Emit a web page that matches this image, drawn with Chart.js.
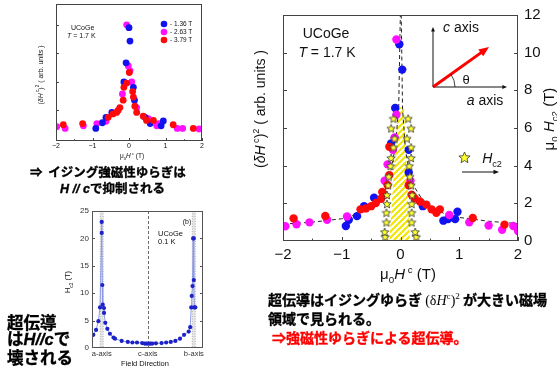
<!DOCTYPE html>
<html>
<head>
<meta charset="utf-8">
<script src="https://cdn.jsdelivr.net/npm/chart.js@4.4.1/dist/chart.umd.min.js"></script>
<style>
body{margin:0;width:557px;height:371px;background:#fff;position:relative;overflow:hidden;font-family:"Liberation Sans",Arial,sans-serif;}
canvas{position:absolute;}
.t{position:absolute;white-space:nowrap;color:#111;line-height:1;}
.c{transform:translate(-50%,-50%);}
.l{transform:translate(0,-50%);}
.rot{transform:translate(-50%,-50%) rotate(-90deg);}
.jp{font-family:"Noto Sans CJK JP",sans-serif;font-weight:700;-webkit-text-stroke:0.35px #000;color:#000;}
.red{color:#ff0000;-webkit-text-stroke:0.35px #ff0000;}
.lat{font-family:"Liberation Sans",Arial,sans-serif;font-style:italic;}
.ser{font-family:"Liberation Serif","Times New Roman",serif;font-weight:400;-webkit-text-stroke:0;}
sub,sup{font-size:65%;line-height:0;}
</style>
</head>
<body>
<canvas id="small" width="215" height="160" style="left:0;top:0"></canvas>
<canvas id="hc2" width="175" height="171" style="left:40px;top:200px"></canvas>
<canvas id="big" width="307" height="290" style="left:250px;top:0"></canvas>

<!-- top-left chart texts -->
<div class="t l" style="left:71px;top:27px;font-size:7px">UCoGe</div>
<div class="t l" style="left:67px;top:35px;font-size:7px"><i>T</i> = 1.7 K</div>
<div class="t l" style="left:170px;top:24px;font-size:6.5px">- 1.36 T</div>
<div class="t l" style="left:170px;top:32px;font-size:6.5px">- 2.63 T</div>
<div class="t l" style="left:170px;top:40px;font-size:6.5px">- 3.79 T</div>
<div class="t c" style="left:132px;top:156px;font-size:6.5px">μ<sub>0</sub><i>H</i><sup> c</sup> (T)</div>
<div class="t rot" style="left:40px;top:75px;font-size:7px">(<i>δH</i><sup> c</sup>)<sup>2</sup> ( arb. units )</div>

<!-- bottom-left chart texts -->
<div class="t c" style="left:187px;top:221px;font-size:7px">(b)</div>
<div class="t l" style="left:158px;top:234px;font-size:7.5px">UCoGe</div>
<div class="t l" style="left:158px;top:242px;font-size:7.5px">0.1 K</div>
<div class="t c" style="left:145px;top:364px;font-size:7.5px">Field Direction</div>
<div class="t rot" style="left:68px;top:282px;font-size:7.5px">H<sub>c2</sub> (T)</div>

<!-- big chart texts -->
<div class="t c" style="left:326px;top:33px;font-size:14px">UCoGe</div>
<div class="t c" style="left:327px;top:52px;font-size:14px"><i>T</i> = 1.7 K</div>
<div class="t c" style="left:461px;top:27px;font-size:14px"><i>c</i> axis</div>
<div class="t c" style="left:485px;top:100px;font-size:14px"><i>a</i> axis</div>
<div class="t c" style="left:466px;top:79px;font-size:13px">θ</div>
<div class="t c" style="left:492px;top:158px;font-size:14px"><i>H</i><sub>c2</sub></div>
<div class="t c" style="left:408px;top:273px;font-size:15px">μ<sub>0</sub><i>H</i><sup> c</sup> (T)</div>
<div class="t rot" style="left:260px;top:109px;font-size:14px">(<i>δH</i><sup> c</sup>)<sup>2</sup> ( arb. units )</div>
<div class="t rot" style="left:548px;top:119px;font-size:15px">μ<sub>0</sub> <i>H</i><sub>c2</sub> (T)</div>

<!-- Japanese annotations -->
<div class="t l jp" style="left:30px;top:172px;font-size:12.5px">⇒&nbsp;&nbsp;イジング強磁性ゆらぎは</div>
<div class="t l jp" style="left:60px;top:189px;font-size:12.5px"><span class="lat">H // c</span>で抑制される</div>
<div class="t l jp" style="left:7px;top:322px;font-size:16.5px">超伝導</div>
<div class="t l jp" style="left:7px;top:339px;font-size:16.5px">は<span class="lat">H//c</span>で</div>
<div class="t l jp" style="left:7px;top:357px;font-size:16.5px">壊される</div>
<div class="t l jp" style="left:268px;top:300px;font-size:14px">超伝導はイジングゆらぎ <span class="ser">(δ<i>H</i><sup>c</sup>)<sup>2</sup></span> が大きい磁場</div>
<div class="t l jp" style="left:268px;top:318px;font-size:14px">領域で見られる。</div>
<div class="t l jp red" style="left:272px;top:337px;font-size:14px">⇒強磁性ゆらぎによる超伝導。</div>

<script>
// ---- top-left: (dH^c)^2 at three fields ----
const s136X = [0, 0.027, -0.08, -0.14, 0.12, 0.15, -0.47, -0.63, 0.44, 0.58, 0.94, 0.88, -0.73, -0.91];
const s136Y = [3.9, 3.43, 2.67, 2.0, 1.81, 1.36, 0.93, 0.76, 0.76, 0.54, 0.63, 0.46, 0.57, 0.37];
const s263X = [-0.063, -0.019, 0.027, 0.074, -0.18, 0.21, -0.63, -0.88, -1.25, -1.75, -1.98, 0.53, 0.82, 0.76, 1.32, 1.47, 1.92];
const s263Y = [4.0, 2.56, 2.39, 2.0, 1.58, 1.1, 0.62, 0.54, 0.46, 0.37, 0.43, 0.71, 0.54, 0.46, 0.37, 0.37, 0.35];
const s379X = [-0.063, 0.008, -0.14, 0.1, 0.12, -0.16, 0.16, -0.25, -0.34, 0.21, -0.57, 0.39, 0.48, 0.67, -1.27, -1.8, 1.21, 1.76, -0.44, -0.3];
const s379Y = [1.96, 2.33, 1.81, 1.66, 1.47, 1.36, 1.15, 1.1, 0.93, 0.93, 0.76, 0.8, 0.65, 0.65, 0.54, 0.5, 0.5, 0.37, 0.88, 1.0];
const smallXTicks = [-2, -1.5, -1, -0.5, 0, 0.5, 1, 1.5, 2];
const smallYTicks = [1, 2, 3, 4];

// ---- bottom-left: Hc2 vs field direction (a=0, c=90, b=180) ----
const hc2Deg = [-16.4, -11, -6.5, -3.3, 0, 0, 1.2, 2, 4.5, 4.5, 7, 11, 16, 23, 26, 39, 51, 60, 69, 79, 84, 87, 90, 93, 96, 99, 106, 117, 126, 135, 144, 153, 161, 170, 173, 175, 176, 177.5, 178.7, 180, 180, 181, 183];
const hc2Val = [2.4, 3.3, 4.9, 7.4, 21, 23, 11.5, 7.9, 7.3, 6.4, 4.6, 3.5, 2.6, 1.9, 1.7, 1.3, 1.1, 1.0, 1.0, 0.9, 0.8, 0.8, 0.8, 0.8, 0.8, 0.8, 0.85, 0.9, 1.0, 1.1, 1.3, 1.7, 2.4, 3.0, 3.8, 7.4, 9.5, 11.3, 20, 20, 12.4, 7.4, 7.4];
const dirValues = [0, 90, 180];
const dirLabels = ['a-axis', 'c-axis', 'b-axis'];
const hc2YTicks = [5, 10, 15, 20];

// ---- right: big plot ----
const bBlueX = [-0.93, -0.88, -0.74, -0.62, -0.45, -0.16, -0.09, -0.02, 0.03, 0.14, 0.14, 0.38, 0.73, 0.81, 0.93, 0.97];
const bBlueY = [0.8, 1.13, 1.32, 1.85, 2.3, 5.18, 7.06, 10.45, 9.1, 4.84, 3.64, 1.85, 1.08, 1.16, 1.16, 1.55];
const bMagX = [-1.96, -1.77, -1.55, -1.25, -0.91, -0.27, -0.22, -0.13, -0.1, -0.07, -0.07, 0.17, 0.83, 1.17, 1.5, 1.73, 1.92, 2.0];
const bMagY = [0.78, 0.89, 0.99, 1.13, 1.3, 3.2, 4.07, 4.84, 5.5, 6.7, 10.7, 3.2, 1.38, 0.99, 0.82, 0.6, 0.8, 0.53];
const bRedX = [-1.82, -1.28, -0.68, -0.59, -0.5, -0.42, -0.33, -0.27, -0.31, -0.22, -0.19, -0.19, 0.14, 0.19, 0.24, 0.33, 0.44, 0.53, 0.61, 0.67, 1.23, 1.77];
const bRedY = [1.2, 1.33, 1.68, 1.73, 1.85, 2.02, 2.24, 2.45, 2.6, 2.97, 3.5, 5.0, 2.96, 2.46, 2.27, 2.1, 1.93, 1.68, 1.5, 1.68, 1.22, 0.87];
const fitX = [-2, -1.5, -1, -0.75, -0.5, -0.35, -0.25, -0.15, -0.08, -0.03, 0.0, 0.01, 0.035, 0.08, 0.15, 0.25, 0.35, 0.5, 0.75, 1, 1.5, 2];
const fitY = [0.9, 1.0, 1.18, 1.42, 1.85, 2.3, 2.8, 3.9, 5.2, 7.2, 12.5, 12.5, 7.0, 5.0, 3.6, 2.8, 2.3, 1.85, 1.45, 1.25, 1.05, 0.92];
const starLX = [-0.26, -0.27, -0.24, -0.24, -0.23, -0.23, -0.21, -0.2, -0.17, -0.16, -0.12, -0.1, -0.16, -0.12];
const starRX = [0.27, 0.25, 0.19, 0.19, 0.19, 0.2, 0.18, 0.16, 0.15, 0.18, 0.18, 0.11, 0.18, 0.13];
const starY = [0.22, 0.48, 0.99, 1.5, 1.97, 2.44, 2.96, 3.42, 3.98, 4.41, 4.97, 5.44, 5.98, 6.5];
const scX = [-0.19, -0.04, 0.06, 0.16];
const scY = [0, 7.1, 7.1, 0];
const bigXTicks = [-2, -1.5, -1, -0.5, 0, 0.5, 1, 1.5, 2];
const bigYTicks = [2, 4, 6, 8, 10];

const BLUE = '#1212f0', MAG = '#ff10ff', RED = '#ff0a0a';

function pts(xs, ys) {
  return xs.map((x, i) => ({x: x, y: ys[i]}));
}
function minus(v) {
  return String(v).replace('-', '\u2212');
}

function starImg(size) {
  const c = document.createElement('canvas');
  c.width = c.height = size;
  const g = c.getContext('2d');
  const r = size / 2 - 0.6, ri = r * 0.45, cx = size / 2, cy = size / 2 + 0.4;
  g.beginPath();
  for (let i = 0; i < 10; i++) {
    const rr = i % 2 ? ri : r;
    const a = -Math.PI / 2 + i * Math.PI / 5;
    g.lineTo(cx + rr * Math.cos(a), cy + rr * Math.sin(a));
  }
  g.closePath();
  g.fillStyle = '#ffff30';
  g.fill();
  g.lineWidth = 0.8;
  g.strokeStyle = '#333';
  g.stroke();
  return c;
}

function hatchPattern() {
  const pc = document.createElement('canvas');
  pc.width = 6; pc.height = 6;
  const p = pc.getContext('2d');
  p.fillStyle = '#fff';
  p.fillRect(0, 0, 6, 6);
  p.strokeStyle = '#f2e600';
  p.lineWidth = 2.2;
  p.beginPath();
  p.moveTo(-1, 7); p.lineTo(7, -1);
  p.moveTo(-4, 4); p.lineTo(4, -4);
  p.moveTo(2, 10); p.lineTo(10, 2);
  p.stroke();
  return p.createPattern(pc, 'repeat');
}

function arrow(ctx, x1, y1, x2, y2, head, color, w) {
  const a = Math.atan2(y2 - y1, x2 - x1);
  ctx.strokeStyle = color;
  ctx.fillStyle = color;
  ctx.lineWidth = w;
  ctx.beginPath();
  ctx.moveTo(x1, y1);
  ctx.lineTo(x2 - head * 0.8 * Math.cos(a), y2 - head * 0.8 * Math.sin(a));
  ctx.stroke();
  ctx.beginPath();
  ctx.moveTo(x2, y2);
  ctx.lineTo(x2 - head * Math.cos(a - 0.4), y2 - head * Math.sin(a - 0.4));
  ctx.lineTo(x2 - head * Math.cos(a + 0.4), y2 - head * Math.sin(a + 0.4));
  ctx.closePath();
  ctx.fill();
}

// frame + inward ticks
const framePlugin = {
  id: 'frame',
  afterDatasetsDraw(chart, args, o) {
    const {ctx, chartArea: a, scales} = chart;
    ctx.save();
    ctx.strokeStyle = o.color || '#333';
    ctx.lineWidth = 1;
    ctx.strokeRect(a.left + 0.5, a.top + 0.5, a.width - 1, a.height - 1);
    ctx.beginPath();
    (o.xTicks || []).forEach(v => {
      const x = Math.round(scales.x.getPixelForValue(v)) + 0.5;
      const len = Number.isInteger(v) ? o.len : o.len * 0.6;
      ctx.moveTo(x, a.bottom);
      ctx.lineTo(x, a.bottom - len);
    });
    (o.yTicks || []).forEach(v => {
      const y = Math.round(scales.y.getPixelForValue(v)) + 0.5;
      ctx.moveTo(a.left, y);
      ctx.lineTo(a.left + o.len, y);
      if (o.right) {
        ctx.moveTo(a.right, y);
        ctx.lineTo(a.right - o.len, y);
      }
    });
    ctx.stroke();
    ctx.restore();
  }
};

Chart.defaults.font.family = '"Liberation Sans", Arial, sans-serif';
Chart.defaults.color = '#111';

// ---------- top-left chart ----------
const smallLegend = {
  id: 'smallLegend',
  afterDraw(chart) {
    const ctx = chart.ctx;
    [[24, BLUE], [32, MAG], [40, RED]].forEach(([y, c]) => {
      ctx.fillStyle = c;
      ctx.beginPath();
      ctx.arc(164, y, 3.3, 0, Math.PI * 2);
      ctx.fill();
    });
  }
};

new Chart(document.getElementById('small'), {
  type: 'scatter',
  data: {
    datasets: [
      {data: pts(s379X, s379Y), backgroundColor: RED, borderWidth: 0, pointRadius: 3.4, order: 1},
      {data: pts(s263X, s263Y), backgroundColor: MAG, borderWidth: 0, pointRadius: 3.4, order: 3},
      {data: pts(s136X, s136Y), backgroundColor: BLUE, borderWidth: 0, pointRadius: 3.4, order: 2}
    ]
  },
  options: {
    responsive: false,
    animation: false,
    events: [],
    layout: {padding: {top: 1, right: 13}},
    plugins: {legend: {display: false}, tooltip: {enabled: false},
      frame: {xTicks: smallXTicks, yTicks: smallYTicks, len: 3, color: '#444'}},
    scales: {
      x: {min: -2, max: 2, grid: {display: false, drawTicks: false}, border: {display: false},
        ticks: {stepSize: 1, font: {size: 7}, padding: 1, callback: v => minus(v)},
        afterFit(s) { s.height = 19; }},
      y: {min: -0.07, max: 4.73, grid: {display: false, drawTicks: false}, border: {display: false},
        ticks: {display: false}, afterFit(s) { s.width = 56; }}
    }
  },
  plugins: [framePlugin, smallLegend]
});

// ---------- bottom-left Hc2 chart ----------
const dirLines = {
  id: 'dirLines',
  beforeDatasetsDraw(chart) {
    const {ctx, chartArea: a, scales} = chart;
    ctx.save();
    [0, 180].forEach(v => {
      const x = scales.x.getPixelForValue(v);
      ctx.fillStyle = '#e4e4e4';
      ctx.fillRect(x - 1.5, a.top, 3, a.height);
      ctx.strokeStyle = '#888';
      ctx.lineWidth = 0.6;
      ctx.setLineDash([1, 1.5]);
      ctx.beginPath();
      ctx.moveTo(x - 1.5, a.top); ctx.lineTo(x - 1.5, a.bottom);
      ctx.moveTo(x + 1.5, a.top); ctx.lineTo(x + 1.5, a.bottom);
      ctx.stroke();
    });
    const xc = Math.round(scales.x.getPixelForValue(90)) + 0.5;
    ctx.strokeStyle = '#444';
    ctx.lineWidth = 0.8;
    ctx.setLineDash([3, 2]);
    ctx.beginPath();
    ctx.moveTo(xc, a.top); ctx.lineTo(xc, a.bottom);
    ctx.stroke();
    ctx.restore();
  }
};

new Chart(document.getElementById('hc2'), {
  type: 'scatter',
  data: {
    datasets: [{
      data: pts(hc2Deg, hc2Val), showLine: true, borderColor: '#8d9be6', borderWidth: 1,
      backgroundColor: '#1d22c8', pointRadius: 2.1, pointBorderWidth: 0
    }]
  },
  options: {
    responsive: false,
    animation: false,
    events: [],
    layout: {padding: {top: 11, right: 12}},
    plugins: {legend: {display: false}, tooltip: {enabled: false},
      frame: {yTicks: hc2YTicks, len: 3, right: true, color: '#555'}},
    scales: {
      x: {min: -19, max: 198, grid: {display: false, drawTicks: false}, border: {display: false},
        afterBuildTicks(s) { s.ticks = dirValues.map(v => ({value: v})); },
        ticks: {font: {size: 7.5}, padding: 1, color: '#333',
          callback: v => dirLabels[dirValues.indexOf(v)]},
        afterFit(s) { s.height = 23; }},
      y: {min: 0, max: 25, grid: {display: false, drawTicks: false}, border: {display: false},
        ticks: {stepSize: 5, font: {size: 8}, padding: 3, color: '#333'},
        afterFit(s) { s.width = 52; }}
    }
  },
  plugins: [dirLines, framePlugin]
});

// ---------- big chart ----------
const starSmall = starImg(10);
const starBig = starImg(13);

const inset = {
  id: 'inset',
  afterDraw(chart) {
    const ctx = chart.ctx;
    ctx.save();
    // crystal axes
    arrow(ctx, 183, 87, 183, 27, 5, '#111', 1);
    arrow(ctx, 183, 87, 257, 87, 5, '#111', 1);
    // field direction
    arrow(ctx, 183, 87, 239, 47, 11, '#ff0000', 3);
    ctx.strokeStyle = '#111';
    ctx.lineWidth = 0.8;
    ctx.beginPath();
    ctx.arc(183, 87, 22, -0.62, 0);
    ctx.stroke();
    // Hc2 key
    ctx.drawImage(starBig, 208, 151);
    arrow(ctx, 212, 172, 249, 172, 6, '#111', 1);
    ctx.restore();
  }
};

new Chart(document.getElementById('big'), {
  type: 'scatter',
  data: {
    datasets: [
      {data: pts(scX, scY), showLine: true, fill: 'origin', backgroundColor: hatchPattern(),
        borderWidth: 0, pointRadius: 0, yAxisID: 'y2', order: 20},
      {data: pts(fitX, fitY), showLine: true, borderColor: '#222', borderWidth: 1,
        borderDash: [4, 3], pointRadius: 0, order: 6},
      {data: pts(bBlueX, bBlueY), backgroundColor: BLUE, borderWidth: 0, pointRadius: 4.2, order: 5},
      {data: pts(bMagX, bMagY), backgroundColor: MAG, borderWidth: 0, pointRadius: 4.2, order: 4},
      {data: pts(bRedX, bRedY), backgroundColor: RED, borderWidth: 0, pointRadius: 4.2, order: 3},
      {data: pts(starLX.concat(starRX), starY.concat(starY)), pointStyle: starSmall,
        yAxisID: 'y2', order: 1}
    ]
  },
  options: {
    responsive: false,
    animation: false,
    events: [],
    clip: 0,
    layout: {padding: 0},
    plugins: {legend: {display: false}, tooltip: {enabled: false},
      frame: {xTicks: bigXTicks, yTicks: bigYTicks, len: 4, right: true, color: '#444'}},
    scales: {
      x: {min: -2, max: 2, grid: {display: false, drawTicks: false}, border: {display: false},
        ticks: {stepSize: 1, font: {size: 15}, padding: 5, callback: v => minus(v)},
        afterFit(s) { s.height = 49; }},
      y: {position: 'left', min: 0, max: 12, grid: {display: false, drawTicks: false},
        border: {display: false}, ticks: {display: false}, afterFit(s) { s.width = 33; }},
      y2: {position: 'right', min: 0, max: 12, grid: {display: false, drawTicks: false},
        border: {display: false}, ticks: {stepSize: 2, font: {size: 15}, padding: 6},
        afterFit(s) { s.width = 39; }}
    }
  },
  plugins: [framePlugin, inset]
});
</script>
</body>
</html>
